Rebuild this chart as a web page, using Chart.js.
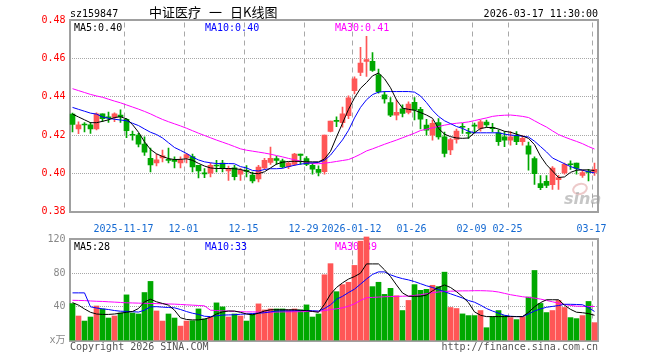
<!DOCTYPE html>
<html>
<head>
<meta charset="utf-8">
<script src="https://cdn.jsdelivr.net/npm/chart.js@4/dist/chart.umd.min.js"></script>
<style>
  html, body { margin: 0; padding: 0; background: #fff; }
  #wrap { position: relative; width: 660px; height: 360px; }
  canvas { position: absolute; left: 0; top: 0; }
</style>
</head>
<body>
<div id="wrap">
  <canvas id="kChart" width="660" height="360"></canvas>
  <canvas id="volChart" width="660" height="360"></canvas>
</div>
<script>
'use strict';

// Data
const dates = [
  '2025-11-04', '2025-11-05', '2025-11-06', '2025-11-07', '2025-11-10', '2025-11-11', '2025-11-12', '2025-11-13', '2025-11-14', '2025-11-17',
  '2025-11-18', '2025-11-19', '2025-11-20', '2025-11-21', '2025-11-24', '2025-11-25', '2025-11-26', '2025-11-27', '2025-11-28', '2025-12-01',
  '2025-12-02', '2025-12-03', '2025-12-04', '2025-12-05', '2025-12-08', '2025-12-09', '2025-12-10', '2025-12-11', '2025-12-12', '2025-12-15',
  '2025-12-16', '2025-12-17', '2025-12-18', '2025-12-19', '2025-12-22', '2025-12-23', '2025-12-24', '2025-12-25', '2025-12-26', '2025-12-29',
  '2025-12-30', '2025-12-31', '2026-01-05', '2026-01-06', '2026-01-07', '2026-01-08', '2026-01-09', '2026-01-12', '2026-01-13', '2026-01-14',
  '2026-01-15', '2026-01-16', '2026-01-19', '2026-01-20', '2026-01-21', '2026-01-22', '2026-01-23', '2026-01-26', '2026-01-27', '2026-01-28',
  '2026-01-29', '2026-01-30', '2026-02-02', '2026-02-03', '2026-02-04', '2026-02-05', '2026-02-06', '2026-02-09', '2026-02-10', '2026-02-11',
  '2026-02-12', '2026-02-13', '2026-02-24', '2026-02-25', '2026-02-26', '2026-02-27', '2026-03-02', '2026-03-03', '2026-03-04', '2026-03-05',
  '2026-03-06', '2026-03-09', '2026-03-10', '2026-03-11', '2026-03-12', '2026-03-13', '2026-03-16', '2026-03-17'
];
const tickDates = ['2025-11-17', '2025-12-01', '2025-12-15', '2025-12-29', '2026-01-12', '2026-01-26', '2026-02-09', '2026-02-25', '2026-03-17'];
const tickLabels = ['2025-11-17', '12-01', '12-15', '12-29', '2026-01-12', '01-26', '02-09', '02-25', '03-17'];
const priceTicks = [0.38, 0.40, 0.42, 0.44, 0.46, 0.48];
const volumeTicks = [0, 40, 80, 120];

const opens = [
  0.4310, 0.4233, 0.4256, 0.4254, 0.4232, 0.4311, 0.4292, 0.4293, 0.4305, 0.4283,
  0.4202, 0.4200, 0.4153, 0.4079, 0.4054, 0.4081, 0.4072, 0.4070, 0.4054, 0.4081,
  0.4088, 0.4042, 0.4000, 0.4001, 0.4041, 0.4053, 0.4012, 0.4028, 0.3995, 0.4014,
  0.3991, 0.3970, 0.4028, 0.4057, 0.4077, 0.4065, 0.4035, 0.4046, 0.4100, 0.4077,
  0.4042, 0.4021, 0.4009, 0.4219, 0.4275, 0.4265, 0.4302, 0.4432, 0.4528, 0.4586,
  0.4586, 0.4516, 0.4411, 0.4370, 0.4305, 0.4337, 0.4319, 0.4372, 0.4335, 0.4253,
  0.4200, 0.4265, 0.4191, 0.4123, 0.4177, 0.4245, 0.4213, 0.4253, 0.4235, 0.4268,
  0.4237, 0.4212, 0.4191, 0.4174, 0.4195, 0.4165, 0.4144, 0.4077, 0.3946, 0.3958,
  0.3940, 0.3967, 0.4002, 0.4049, 0.4054, 0.3989, 0.4008, 0.4004
];
const closes = [
  0.4256, 0.4254, 0.4253, 0.4233, 0.4311, 0.4286, 0.4290, 0.4311, 0.4296, 0.4223,
  0.4199, 0.4153, 0.4111, 0.4044, 0.4070, 0.4091, 0.4068, 0.4062, 0.4070, 0.4098,
  0.4033, 0.4012, 0.3997, 0.4042, 0.4038, 0.4028, 0.4025, 0.3983, 0.4016, 0.4010,
  0.3960, 0.4032, 0.4068, 0.4079, 0.4068, 0.4033, 0.4054, 0.4100, 0.4093, 0.4046,
  0.4021, 0.4004, 0.4200, 0.4274, 0.4272, 0.4311, 0.4395, 0.4495, 0.4577, 0.4595,
  0.4538, 0.4428, 0.4389, 0.4305, 0.4319, 0.4314, 0.4363, 0.4332, 0.4284, 0.4226,
  0.4262, 0.4191, 0.4104, 0.4176, 0.4221, 0.4241, 0.4209, 0.4247, 0.4270, 0.4253,
  0.4234, 0.4165, 0.4174, 0.4191, 0.4165, 0.4183, 0.4100, 0.3998, 0.3925, 0.3937,
  0.4027, 0.3977, 0.4047, 0.4045, 0.4025, 0.4004, 0.4005, 0.4021
];
const highs = [
  0.4315, 0.4270, 0.4265, 0.4267, 0.4316, 0.4311, 0.4321, 0.4317, 0.4332, 0.4286,
  0.4221, 0.4209, 0.4191, 0.4132, 0.4100, 0.4121, 0.4132, 0.4086, 0.4086, 0.4105,
  0.4100, 0.4042, 0.4025, 0.4053, 0.4068, 0.4068, 0.4038, 0.4042, 0.4026, 0.4041,
  0.4007, 0.4042, 0.4079, 0.4137, 0.4089, 0.4075, 0.4059, 0.4104, 0.4100, 0.4088,
  0.4053, 0.4039, 0.4200, 0.4274, 0.4296, 0.4347, 0.4405, 0.4505, 0.4660, 0.4717,
  0.4632, 0.4546, 0.4428, 0.4396, 0.4384, 0.4358, 0.4374, 0.4396, 0.4346, 0.4283,
  0.4279, 0.4286, 0.4216, 0.4183, 0.4232, 0.4262, 0.4235, 0.4263, 0.4279, 0.4279,
  0.4262, 0.4228, 0.4219, 0.4219, 0.4219, 0.4198, 0.4163, 0.4086, 0.3988, 0.3988,
  0.4035, 0.3989, 0.4053, 0.4065, 0.4054, 0.4016, 0.4021, 0.4054
];
const lows = [
  0.4217, 0.4207, 0.4217, 0.4209, 0.4227, 0.4270, 0.4267, 0.4270, 0.4267, 0.4186,
  0.4174, 0.4138, 0.4093, 0.4007, 0.4038, 0.4060, 0.4054, 0.4028, 0.4028, 0.4054,
  0.4007, 0.3976, 0.3977, 0.3981, 0.4007, 0.4007, 0.3963, 0.3965, 0.3963, 0.3981,
  0.3950, 0.3955, 0.4021, 0.4046, 0.4047, 0.4028, 0.4024, 0.4040, 0.4046, 0.4040,
  0.3995, 0.3986, 0.3995, 0.4216, 0.4244, 0.4242, 0.4286, 0.4416, 0.4511, 0.4507,
  0.4533, 0.4419, 0.4367, 0.4296, 0.4279, 0.4295, 0.4311, 0.4279, 0.4232, 0.4200,
  0.4174, 0.4179, 0.4086, 0.4097, 0.4158, 0.4209, 0.4183, 0.4211, 0.4221, 0.4242,
  0.4217, 0.4146, 0.4139, 0.4147, 0.4150, 0.4147, 0.4016, 0.3942, 0.3914, 0.3925,
  0.3915, 0.3916, 0.3995, 0.4020, 0.3995, 0.3979, 0.3960, 0.3989
];
const ma5 = [
  0.4310, 0.4295, 0.4280, 0.4265, 0.4265, 0.4272, 0.4280, 0.4292, 0.4296, 0.4285,
  0.4255, 0.4215, 0.4165, 0.4125, 0.4102, 0.4088, 0.4077, 0.4072, 0.4073, 0.4076,
  0.4068, 0.4052, 0.4038, 0.4028, 0.4025, 0.4025, 0.4025, 0.4024, 0.4020, 0.4012,
  0.4000, 0.3998, 0.4008, 0.4028, 0.4048, 0.4058, 0.4062, 0.4063, 0.4062, 0.4060,
  0.4060, 0.4060, 0.4075, 0.4115, 0.4190, 0.4262, 0.4335, 0.4395, 0.4445, 0.4475,
  0.4510, 0.4525, 0.4495, 0.4448, 0.4384, 0.4341, 0.4335, 0.4330, 0.4318, 0.4305,
  0.4288, 0.4235, 0.4205, 0.4192, 0.4185, 0.4183, 0.4185, 0.4212, 0.4235, 0.4240,
  0.4240, 0.4232, 0.4220, 0.4215, 0.4205, 0.4195, 0.4183, 0.4150, 0.4090, 0.4045,
  0.4012, 0.3978, 0.3981, 0.4005, 0.4016, 0.4018, 0.4018, 0.4014
];
const ma10 = [
  0.4345, 0.4335, 0.4325, 0.4315, 0.4310, 0.4295, 0.4288, 0.4283, 0.4279, 0.4275,
  0.4262, 0.4250, 0.4232, 0.4215, 0.4203, 0.4185, 0.4160, 0.4135, 0.4120, 0.4104,
  0.4085, 0.4070, 0.4060, 0.4055, 0.4051, 0.4051, 0.4051, 0.4050, 0.4035, 0.4028,
  0.4015, 0.4012, 0.4020, 0.4024, 0.4024, 0.4026, 0.4035, 0.4042, 0.4048, 0.4052,
  0.4055, 0.4057, 0.4068, 0.4095, 0.4135, 0.4175, 0.4225, 0.4290, 0.4345, 0.4385,
  0.4412, 0.4425, 0.4428, 0.4428, 0.4428, 0.4428, 0.4428, 0.4425, 0.4405, 0.4370,
  0.4330, 0.4298, 0.4275, 0.4260, 0.4245, 0.4235, 0.4220, 0.4212, 0.4212, 0.4212,
  0.4212, 0.4212, 0.4205, 0.4200, 0.4198, 0.4194, 0.4190, 0.4168, 0.4140, 0.4112,
  0.4080, 0.4065, 0.4050, 0.4035, 0.4025, 0.4016, 0.4008, 0.4002
];
const ma30 = [
  0.4443, 0.4433, 0.4423, 0.4413, 0.4405, 0.4398, 0.4388, 0.4378, 0.4369, 0.4358,
  0.4347, 0.4336, 0.4324, 0.4311, 0.4296, 0.4282, 0.4270, 0.4259, 0.4248, 0.4236,
  0.4223, 0.4210, 0.4198, 0.4186, 0.4174, 0.4163, 0.4152, 0.4140, 0.4128, 0.4121,
  0.4116, 0.4111, 0.4106, 0.4100, 0.4093, 0.4086, 0.4078, 0.4071, 0.4064, 0.4057,
  0.4051, 0.4050, 0.4053, 0.4057, 0.4062, 0.4067, 0.4072, 0.4085, 0.4100, 0.4117,
  0.4128, 0.4140, 0.4152, 0.4163, 0.4174, 0.4186, 0.4198, 0.4210, 0.4224, 0.4231,
  0.4238, 0.4245, 0.4252, 0.4258, 0.4262, 0.4265, 0.4269, 0.4276, 0.4283, 0.4290,
  0.4298, 0.4302, 0.4304, 0.4305, 0.4302, 0.4298, 0.4292, 0.4275, 0.4258, 0.4242,
  0.4222, 0.4203, 0.4190, 0.4178, 0.4167, 0.4155, 0.4140, 0.4127
];
const volumes = [
  43.9, 29.1, 23.1, 27.9, 41.0, 37.5, 26.7, 29.1, 32.7, 54.2,
  32.7, 31.5, 57.0, 70.2, 35.1, 23.1, 31.5, 26.7, 17.1, 23.1,
  23.5, 37.5, 25.5, 27.9, 44.7, 39.9, 27.9, 31.5, 29.1, 23.1,
  31.5, 43.5, 36.3, 37.5, 37.5, 37.5, 36.3, 37.5, 36.3, 42.3,
  27.9, 31.5, 78.1, 91.3, 58.0, 66.4, 69.2, 89.2, 118.0, 123.0,
  64.0, 69.2, 54.8, 62.0, 53.2, 35.6, 47.6, 66.4, 59.6, 60.8,
  65.6, 64.0, 81.2, 39.2, 38.0, 31.6, 29.6, 29.6, 35.6, 15.2,
  28.4, 35.6, 29.6, 27.2, 24.8, 28.4, 51.6, 83.2, 44.0, 33.2,
  35.6, 47.6, 39.2, 27.2, 26.0, 29.6, 46.4, 21.2
];
const volMa5 = [
  45.0, 42.0, 37.5, 33.5, 31.5, 31.0, 31.0, 31.5, 32.5, 33.5,
  34.5, 38.0, 46.0, 49.0, 46.0, 44.0, 42.0, 36.0, 27.0, 25.0,
  24.5, 24.5, 25.5, 27.5, 31.5, 34.0, 35.0, 35.0, 33.5, 31.5,
  30.5, 32.5, 35.0, 36.5, 36.5, 36.5, 36.5, 36.5, 36.0, 35.5,
  34.5, 33.5, 43.0, 55.0, 63.0, 68.5, 73.0, 76.0, 80.0, 91.0,
  91.0, 91.0, 84.0, 76.0, 66.0, 56.5, 52.5, 52.5, 52.5, 54.0,
  59.0, 63.0, 66.0, 63.0, 58.0, 52.0, 45.0, 34.0, 30.0, 28.4,
  28.4, 28.4, 28.4, 28.4, 28.4, 28.4, 33.5, 40.0, 45.0, 48.4,
  48.4, 48.4, 42.0, 37.0, 33.6, 33.0, 32.0, 30.0
];
const volMa10 = [
  56.6, 56.6, 56.6, 40.0, 38.6, 37.6, 36.8, 35.6, 34.8, 34.6,
  34.2, 33.8, 36.0, 40.0, 40.2, 39.6, 39.2, 38.8, 36.8, 34.4,
  32.4, 31.0, 28.8, 28.4, 29.4, 30.2, 30.4, 30.6, 31.2, 31.6,
  32.0, 32.4, 33.0, 34.0, 35.0, 35.2, 35.2, 35.4, 35.6, 35.6,
  35.4, 35.0, 38.0, 42.4, 49.0, 52.5, 57.0, 61.0, 67.0, 73.0,
  78.5, 81.5, 81.5, 78.0, 75.5, 73.5, 72.0, 70.0, 67.5, 65.0,
  63.0, 60.5, 58.0, 55.5, 53.0, 50.5, 47.5, 45.5, 42.0, 38.0,
  35.0, 32.5, 30.0, 28.8, 28.4, 28.4, 31.5, 35.0, 37.5, 39.5,
  40.5, 41.5, 43.0, 43.0, 42.8, 42.5, 39.0, 34.5
];
const volMa30 = [
  47.8, 47.6, 47.4, 47.0, 46.6, 46.4, 46.0, 45.6, 45.2, 44.8,
  44.6, 44.4, 44.2, 44.0, 43.8, 43.6, 43.4, 43.2, 42.8, 42.4,
  42.0, 41.6, 41.2, 36.0, 35.6, 35.2, 35.0, 34.6, 34.2, 34.0,
  34.0, 33.8, 33.6, 33.6, 33.8, 34.0, 34.0, 34.2, 34.2, 34.4,
  34.6, 34.6, 35.6, 36.8, 37.6, 38.8, 40.8, 43.6, 47.6, 50.8,
  51.2, 51.6, 52.0, 52.2, 52.4, 52.6, 52.8, 53.6, 54.4, 55.6,
  56.8, 57.6, 58.4, 58.6, 58.8, 59.0, 59.0, 59.2, 59.2, 59.0,
  58.6, 57.6, 56.0, 54.4, 53.2, 52.0, 51.2, 50.4, 49.2, 47.6,
  46.0, 44.4, 42.8, 41.6, 40.8, 40.6, 40.4, 40.4
];

// Style
const RED = '#ff5656';
const GREEN = '#00a800';
const MONO = '"DejaVu Sans Mono", "Liberation Mono", monospace';
const candleColors = dates.map((d, i) => closes[i] >= opens[i] ? RED : GREEN);

function tickLabelFor(index) {
  const k = tickDates.indexOf(dates[index]);
  return k >= 0 ? tickLabels[k] : '';
}

// dashed vertical lines on the labelled dates, at the left edge of the slot
function drawDateLines(chart) {
  const { ctx, chartArea: a } = chart;
  const xScale = chart.scales.x;
  const half = (xScale.getPixelForValue(1) - xScale.getPixelForValue(0)) / 2;
  ctx.save();
  ctx.strokeStyle = '#a8a8a8';
  ctx.lineWidth = 1;
  ctx.setLineDash([5, 4]);
  for (let d of tickDates) {
    const x = Math.round(xScale.getPixelForValue(dates.indexOf(d)) - half) + 0.5;
    ctx.beginPath();
    ctx.moveTo(x, a.top + 2);
    ctx.lineTo(x, a.bottom);
    ctx.stroke();
  }
  ctx.restore();
}

function drawFrame(chart) {
  const { ctx, chartArea: a } = chart;
  ctx.save();
  ctx.strokeStyle = '#a0a0a0';
  ctx.lineWidth = 2;
  ctx.strokeRect(a.left + 0.5, a.top - 0.5, a.right - a.left, a.bottom - a.top + 1);
  ctx.restore();
}

function drawMaLabels(chart, labels) {
  const { ctx, chartArea: a } = chart;
  ctx.save();
  ctx.font = '10px ' + MONO;
  ctx.textBaseline = 'alphabetic';
  for (let l of labels) {
    ctx.fillStyle = l.color;
    ctx.fillText(l.text, l.x, a.top + 10);
  }
  ctx.restore();
}

const kPlugin = {
  id: 'kDecor',
  beforeDatasetsDraw(chart) {
    const ctx = chart.ctx;
    drawDateLines(chart);
    // sina watermark
    ctx.save();
    ctx.strokeStyle = 'rgba(220,150,150,0.5)';
    ctx.lineWidth = 2;
    ctx.beginPath();
    ctx.ellipse(580, 189, 7, 5, -0.3, 0, Math.PI * 2);
    ctx.stroke();
    ctx.font = 'italic bold 16px "DejaVu Sans", sans-serif';
    ctx.fillStyle = 'rgba(160,160,160,0.6)';
    ctx.fillText('sina', 564, 204);
    ctx.restore();
    drawFrame(chart);
    drawMaLabels(chart, [
      { text: 'MA5:0.40', x: 74, color: '#000' },
      { text: 'MA10:0.40', x: 205, color: '#0000ff' },
      { text: 'MA30:0.41', x: 335, color: '#ff00ff' }
    ]);
  },
  afterDraw(chart) {
    const ctx = chart.ctx;
    ctx.save();
    ctx.fillStyle = '#000';
    ctx.textBaseline = 'alphabetic';
    ctx.font = '10px ' + MONO;
    ctx.textAlign = 'left';
    ctx.fillText('sz159847', 70, 17);
    ctx.textAlign = 'right';
    ctx.fillText('2026-03-17 11:30:00', 598, 17);
    ctx.textAlign = 'left';
    ctx.font = '13px "Noto Sans CJK SC", sans-serif';
    ctx.fillText('中证医疗', 149, 17);
    ctx.fillText('一', 209, 17);
    ctx.fillText('日K线图', 230, 17);
    ctx.restore();
  }
};

const volPlugin = {
  id: 'volDecor',
  beforeDatasetsDraw(chart) {
    drawDateLines(chart);
    drawFrame(chart);
    drawMaLabels(chart, [
      { text: 'MA5:28', x: 74, color: '#000' },
      { text: 'MA10:33', x: 205, color: '#0000ff' },
      { text: 'MA30:39', x: 335, color: '#ff00ff' }
    ]);
  },
  afterDraw(chart) {
    const ctx = chart.ctx;
    ctx.save();
    ctx.fillStyle = '#555';
    ctx.font = '10px ' + MONO;
    ctx.textBaseline = 'alphabetic';
    ctx.textAlign = 'left';
    ctx.fillText('Copyright 2026 SINA.COM', 70, 350);
    ctx.textAlign = 'right';
    ctx.fillText('http://finance.sina.com.cn', 598, 350);
    ctx.restore();
  }
};

function lineSet(label, data, color, order) {
  return {
    type: 'line', label: label, data: data, borderColor: color, borderWidth: 1,
    pointRadius: 0, tension: 0, fill: false, order: order
  };
}

function dateAxis(showLabels, height) {
  return {
    offset: true,
    grid: { display: false },
    border: { display: false },
    ticks: {
      display: showLabels, autoSkip: false, maxRotation: 0, minRotation: 0, padding: 4, labelOffset: -3,
      color: '#1469d2', font: { family: MONO, size: 10 },
      callback: (v, i) => tickLabelFor(i)
    },
    afterFit: s => { s.height = height; }
  };
}

// Candlestick chart
new Chart(document.getElementById('kChart'), {
  type: 'bar',
  data: {
    labels: dates,
    datasets: [
      lineSet('MA5', ma5, '#000000', 1),
      lineSet('MA10', ma10, '#0000ff', 2),
      lineSet('MA30', ma30, '#ff00ff', 3),
      {
        label: 'body', data: dates.map((d, i) => [opens[i], closes[i]]),
        backgroundColor: candleColors, borderWidth: 0, barThickness: 5, minBarLength: 1, grouped: false, order: 4
      },
      {
        label: 'wick', data: dates.map((d, i) => [lows[i], highs[i]]),
        backgroundColor: candleColors, borderWidth: 0, barThickness: 1, grouped: false, order: 5
      }
    ]
  },
  options: {
    responsive: false, animation: false, events: [],
    layout: { padding: { top: 20.5, right: 62.5, bottom: 127.5, left: 0 } },
    plugins: { legend: { display: false }, tooltip: { enabled: false } },
    scales: {
      x: dateAxis(true, 21),
      y: {
        min: 0.38, max: 0.48,
        afterBuildTicks: s => { s.ticks = priceTicks.map(v => ({ value: v })); },
        grid: { color: '#a8a8a8', drawTicks: false },
        border: { display: false, dash: [1, 1] },
        ticks: { color: '#ff0000', padding: 4, font: { family: MONO, size: 10 }, callback: v => v.toFixed(2) },
        afterFit: s => { s.width = 69.5; }
      }
    }
  },
  plugins: [kPlugin]
});

// Volume chart
new Chart(document.getElementById('volChart'), {
  type: 'bar',
  data: {
    labels: dates,
    datasets: [
      lineSet('MA5', volMa5, '#000000', 1),
      lineSet('MA10', volMa10, '#0000ff', 2),
      lineSet('MA30', volMa30, '#ff00ff', 3),
      {
        label: 'volume', data: volumes, backgroundColor: candleColors, borderWidth: 0,
        barThickness: 5, grouped: false, clip: false, order: 4
      }
    ]
  },
  options: {
    responsive: false, animation: false, events: [],
    layout: { padding: { top: 239.5, right: 62.5, bottom: 0, left: 0 } },
    plugins: { legend: { display: false }, tooltip: { enabled: false } },
    scales: {
      x: dateAxis(false, 19.5),
      y: {
        min: 0, max: 120,
        afterBuildTicks: s => { s.ticks = volumeTicks.map(v => ({ value: v })); },
        grid: { color: '#a8a8a8', drawTicks: false },
        border: { display: false, dash: [1, 1] },
        ticks: {
          color: '#888888', padding: 4,
          font: { family: MONO + ', "Noto Sans CJK SC"', size: 10 },
          callback: v => v === 0 ? 'x万' : String(v)
        },
        afterFit: s => { s.width = 69.5; }
      }
    }
  },
  plugins: [volPlugin]
});
</script>
</body>
</html>
